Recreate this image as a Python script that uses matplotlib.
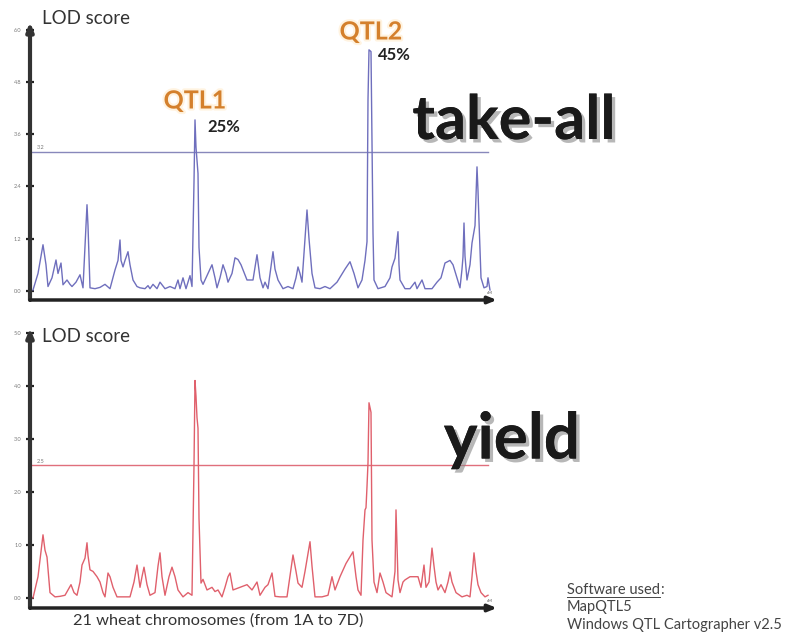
import matplotlib
matplotlib.use("Agg")
import matplotlib.pyplot as plt
import matplotlib.patheffects as pe

plt.rcParams['font.family'] = ['Lato', 'DejaVu Sans']

# ---- data (position along genome, LOD score) ----
takeall_pos = [3, 8, 13, 16, 18, 22, 26, 28, 31, 33, 37, 40, 42, 46, 50, 53, 55, 57, 58, 60, 65, 70, 75, 80,
               85, 88, 90, 91, 93, 95, 98, 100, 103, 107, 110, 115, 118, 120, 123, 127, 130, 135, 140, 145,
               148, 150, 153, 156, 160, 162, 164, 165, 166, 167, 168, 169, 171, 173, 177, 182, 185, 187, 190,
               193, 196, 198, 202, 205, 208, 211, 217, 223, 227, 230, 233, 235, 238, 243, 245, 248, 253, 258,
               263, 266, 268, 270, 272, 275, 277, 279, 282, 285, 290, 295, 300, 307, 315, 320, 324, 328, 332,
               335, 337, 338, 339, 341, 343, 344, 348, 355, 360, 362, 365, 368, 369, 370, 375, 380, 385, 387,
               392, 395, 402, 407, 411, 415, 420, 423, 427, 430, 432, 433, 434, 435, 437, 440, 442, 445, 446,
               447, 448, 449, 451, 454, 457, 458, 460]
takeall_lod = [0.02, 0.4, 1.06, 0.6, 0.1, 0.3, 0.71, 0.4, 0.64, 0.14, 0.25, 0.15, 0.1, 0.2, 0.37, 0.07, 1.0,
               1.98, 1.5, 0.07, 0.05, 0.08, 0.15, 0.05, 0.48, 0.7, 1.17, 0.7, 0.55, 0.7, 0.9, 0.6, 0.25, 0.1,
               0.07, 0.05, 0.12, 0.05, 0.15, 0.05, 0.2, 0.05, 0.1, 0.05, 0.25, 0.05, 0.3, 0.05, 0.35, 0.1,
               2.5, 3.93, 3.3, 3.0, 2.7, 1.0, 0.25, 0.15, 0.35, 0.6, 0.3, 0.07, 0.3, 0.6, 0.4, 0.2, 0.4, 0.76,
               0.72, 0.6, 0.25, 0.25, 0.83, 0.3, 0.07, 0.2, 0.05, 0.9, 0.5, 0.25, 0.05, 0.1, 0.05, 0.3, 0.55,
               0.4, 0.2, 1.2, 1.86, 1.2, 0.4, 0.07, 0.05, 0.1, 0.05, 0.2, 0.5, 0.67, 0.4, 0.07, 0.25, 0.7,
               1.13, 4.4, 5.54, 5.5, 1.33, 0.25, 0.05, 0.1, 0.3, 0.55, 0.75, 1.36, 0.6, 0.25, 0.05, 0.05, 0.2,
               0.05, 0.25, 0.05, 0.05, 0.2, 0.3, 0.64, 0.7, 0.6, 0.3, 0.07, 0.5, 0.78, 1.56, 0.8, 0.25, 0.6,
               1.1, 1.5, 2.2, 2.85, 2.3, 1.6, 0.3, 0.07, 0.1, 0.3, 0.02]

yield_pos = [3, 8, 13, 15, 17, 20, 25, 30, 35, 38, 41, 44, 47, 50, 52, 55, 57, 58, 60, 63, 67, 70, 73, 75, 78,
             80, 83, 87, 93, 100, 104, 107, 110, 112, 114, 117, 120, 125, 128, 130, 132, 135, 139, 142, 145,
             148, 153, 158, 162, 164, 165, 166, 167, 168, 169, 171, 173, 177, 182, 185, 188, 192, 195, 198,
             200, 203, 210, 217, 222, 227, 230, 235, 238, 242, 245, 250, 257, 263, 266, 268, 272, 275, 280,
             282, 285, 292, 298, 302, 305, 310, 316, 323, 326, 328,
             331, 333, 335, 336, 337, 338, 339, 341, 342, 344, 347, 350, 353, 356, 362, 365, 366, 367, 368,
             370, 373, 375, 380, 388, 391, 394, 396, 399, 402, 404, 406, 408, 411, 415, 418, 420, 422, 426,
             432, 437, 440, 442, 444, 446, 448, 451, 455, 458]
yield_lod = [0.0, 0.4, 1.19, 0.9, 0.77, 0.1, 0.02, 0.03, 0.05, 0.15, 0.25, 0.1, 0.05, 0.3, 0.62, 0.75, 1.04,
             0.8, 0.53, 0.5, 0.4, 0.3, 0.1, 0.02, 0.47, 0.4, 0.2, 0.02, 0.02, 0.02, 0.3, 0.62, 0.2, 0.4, 0.58,
             0.25, 0.05, 0.1, 0.6, 0.85, 0.4, 0.05, 0.4, 0.58, 0.4, 0.15, 0.02, 0.1, 0.05, 2.5, 4.1, 3.8, 3.4,
             3.2, 1.5, 0.28, 0.35, 0.15, 0.2, 0.12, 0.15, 0.02, 0.2, 0.4, 0.47, 0.15, 0.2, 0.25, 0.15, 0.3,
             0.05, 0.2, 0.25, 0.47, 0.03, 0.02, 0.02, 0.81, 0.5, 0.28, 0.2, 0.5, 1.06, 0.6, 0.02, 0.02, 0.05,
             0.4, 0.15, 0.4, 0.65, 0.87, 0.4, 0.15,
             0.05, 1.09, 1.66, 1.7, 2.1, 2.55, 3.68, 3.5, 1.09, 0.3, 0.1, 0.47, 0.3, 0.1, 0.02, 0.5, 1.66,
             1.0, 0.34, 0.1, 0.3, 0.34, 0.4, 0.4, 0.2, 0.62, 0.2, 0.3, 0.94, 0.6, 0.3, 0.15, 0.25, 0.1, 0.3,
             0.49, 0.3, 0.1, 0.02, 0.05, 0.02, 0.4, 0.85, 0.5, 0.25, 0.1, 0.02, 0.05]

takeall_ticks = [0.0, 1.2, 2.4, 3.6, 4.8, 6.0]
yield_ticks = [0.0, 1.0, 2.0, 3.0, 4.0, 5.0]
takeall_threshold = 3.2
yield_threshold = 2.5

W, H = 798, 637
fig = plt.figure(figsize=(W / 100, H / 100), dpi=100)


def make_axes(x0, x1, ytop, ybot):
    return fig.add_axes([x0 / W, 1 - ybot / H, (x1 - x0) / W, (ybot - ytop) / H])


def style(ax, ticks, ylim, thr, thr_color, thr_label):
    ax.set_xlim(0, 467)
    ax.set_ylim(*ylim)
    for s in ax.spines.values():
        s.set_visible(False)
    ax.set_xticks([])
    ax.set_yticks(ticks)
    ax.set_yticklabels([f"{t:.1f}" for t in ticks], fontsize=4, color='#777777')
    ax.tick_params(axis='y', direction='inout', length=6, width=1.6, color='#222222', pad=3)
    ax.annotate('', xy=(0, 1.0), xytext=(0, 0), xycoords='axes fraction',
                arrowprops=dict(arrowstyle='-|>,head_length=0.5,head_width=0.2', lw=3, color='#333333',
                                shrinkA=0, shrinkB=0))
    ax.annotate('', xy=(1.0, 0), xytext=(0, 0), xycoords='axes fraction',
                arrowprops=dict(arrowstyle='-|>,head_length=0.5,head_width=0.2', lw=2.5, color='#222222',
                                shrinkA=0, shrinkB=0))
    ax.text(0.985, 0.02, 'cM', transform=ax.transAxes, fontsize=3, color='#555555', ha='center')
    ax.plot([0, 458], [thr, thr], color=thr_color, lw=1.0, zorder=1)
    ax.text(7, thr + 0.03, thr_label, fontsize=4, color='#777777', va='bottom')
    ax.set_facecolor('none')


# ---- top panel: take-all ----
ax1 = make_axes(30, 497, 22, 300)
style(ax1, takeall_ticks, (-0.21, 6.18), takeall_threshold, '#8888bb', '3.2')
ax1.plot(takeall_pos, takeall_lod, color='#6f6fbd', lw=1.0, zorder=3)

# ---- bottom panel: yield ----
ax2 = make_axes(30, 497, 328, 608)
style(ax2, yield_ticks, (-0.19, 5.09), yield_threshold, '#e06f7c', '2.5')
ax2.plot(yield_pos, yield_lod, color='#e0606c', lw=1.0, zorder=3)

# ---- texts ----
def ftext(x, y, s, **kw):
    return fig.text(x / W, 1 - y / H, s, **kw)

ftext(42, 19, 'LOD score', fontsize=13.5, color='#333333', va='center')
ftext(42, 337, 'LOD score', fontsize=13.5, color='#333333', va='center')

shadow = [pe.withSimplePatchShadow(offset=(2.5, -2.5), shadow_rgbFace='#888888', alpha=0.6), pe.Normal()]
ftext(514, 121, 'take-all', fontsize=44, fontweight='bold', color='#1a1a1a', ha='center', va='center',
      path_effects=shadow)
ftext(512, 440, 'yield', fontsize=46, fontweight='bold', color='#1a1a1a', ha='center', va='center',
      path_effects=shadow)

glow = [pe.withStroke(linewidth=3, foreground='#fff3e0')]
ftext(195, 101, 'QTL1', fontsize=18, fontweight='bold', color='#d4802c', ha='center', va='center',
      path_effects=glow)
ftext(207, 127, '25%', fontsize=12, fontweight='bold', color='#222222', ha='left', va='center')
ftext(371, 32, 'QTL2', fontsize=18, fontweight='bold', color='#d4802c', ha='center', va='center',
      path_effects=glow)
ftext(378, 55, '45%', fontsize=12, fontweight='bold', color='#222222', ha='left', va='center')

ftext(218, 621, '21 wheat chromosomes (from 1A to 7D)', fontsize=11.8, color='#333333', ha='center',
      va='center')

sw = ftext(567, 590, 'Software used', fontsize=10.5, color='#444444', ha='left', va='center')
fig.canvas.draw()
bb = sw.get_window_extent(renderer=fig.canvas.get_renderer())
ftext(bb.x1 + 0.5, 590, ':', fontsize=10.5, color='#444444', ha='left', va='center')
fig.add_artist(plt.Line2D([bb.x0 / W, bb.x1 / W], [1 - 596.5 / H, 1 - 596.5 / H], color='#444444', lw=0.7))
ftext(567, 607, 'MapQTL5', fontsize=10.5, color='#444444', ha='left', va='center')
ftext(567, 625, 'Windows QTL Cartographer v2.5', fontsize=10.5, color='#444444', ha='left', va='center')

fig.savefig('out.png', dpi=100)
